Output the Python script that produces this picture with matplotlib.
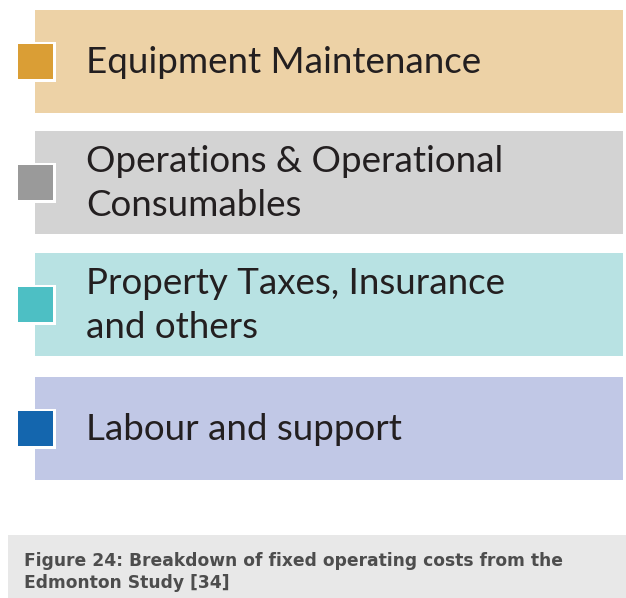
import matplotlib.pyplot as plt
from matplotlib.patches import Rectangle

labels = ["Equipment Maintenance",
          "Operations & Operational\nConsumables",
          "Property Taxes, Insurance\nand others",
          "Labour and support"]
band_colors = ["#EDD2A6", "#D3D3D3", "#B8E2E3", "#C1C8E6"]
marker_colors = ["#DA9E35", "#9A9A9A", "#4DBFC4", "#1466AE"]
caption = "Figure 24: Breakdown of fixed operating costs from the\nEdmonton Study [34]"

plt.rcParams['font.family'] = ['Lato', 'DejaVu Sans']

W, H = 626, 598
fig = plt.figure(figsize=(W / 100, H / 100), dpi=100)
ax = fig.add_axes([0, 0, 1, 1])
ax.set_xlim(0, W)
ax.set_ylim(H, 0)
ax.axis('off')

band_top = [10, 131, 253, 377]
band_h = 103
for i, lab in enumerate(labels):
    y0 = band_top[i]
    ax.add_patch(Rectangle((35, y0), 588, band_h, facecolor=band_colors[i], edgecolor='none'))
    cy = y0 + band_h / 2
    ax.add_patch(Rectangle((16, cy - 20), 40, 40, facecolor='white', edgecolor='none'))
    ax.add_patch(Rectangle((18, cy - 18), 35, 35, facecolor=marker_colors[i], edgecolor='none'))
    ax.text(86, cy + 1, lab, fontsize=26.5, color='#231F20', va='center', ha='left',
            linespacing=1.38)

ax.add_patch(Rectangle((8, 535), 618, 63, facecolor='#E8E8E8', edgecolor='none'))
ax.text(24, 572, caption, fontsize=12.3, fontweight='bold', color='#4D4D4D',
        va='center', ha='left', linespacing=1.25, family='DejaVu Sans')

fig.savefig("out.png", dpi=100)
